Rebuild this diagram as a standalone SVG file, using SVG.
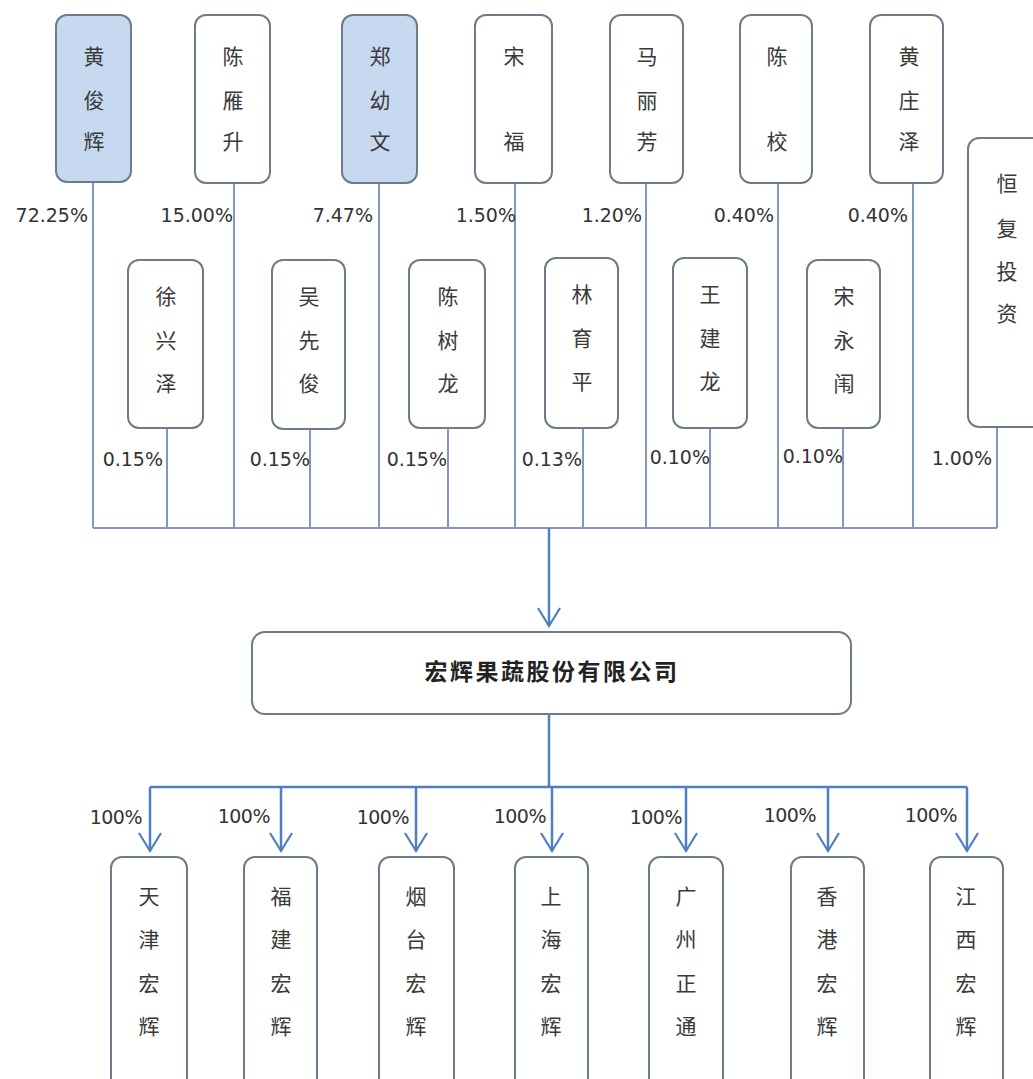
<svg xmlns="http://www.w3.org/2000/svg" width="1033" height="1079" viewBox="0 0 1033 1079">
<defs>
<style>
.box{fill:#ffffff;stroke:#6e7b8b;stroke-width:2}
.hl{fill:#c6d9f0;stroke:#6e7b8b;stroke-width:2}
.nm{font-family:"Noto Sans CJK SC","Noto Sans CJK TC",sans-serif;font-size:21px;fill:#3a3a3a;text-anchor:middle;dominant-baseline:central}
.pct{font-family:"DejaVu Sans","Liberation Sans",sans-serif;font-size:19px;fill:#333333;text-anchor:end;dominant-baseline:central}
.pc2{font-family:"DejaVu Sans","Liberation Sans",sans-serif;font-size:19px;fill:#333333;text-anchor:end;dominant-baseline:central;letter-spacing:-0.5px}
.ln{stroke:#8197bd;stroke-width:2;fill:none}
.ln2{stroke:#4f7fc0;stroke-width:2.5;fill:none}
.co{font-family:"Noto Sans CJK SC",sans-serif;font-size:23px;font-weight:bold;fill:#222222;text-anchor:middle;dominant-baseline:central;letter-spacing:2.5px}
</style>
<marker id="arr" markerUnits="userSpaceOnUse" markerWidth="30" markerHeight="30" refX="0" refY="0" viewBox="-20 -15 30 30" orient="auto" overflow="visible">
<path d="M-18,-11 L0,0 L-18,11" fill="none" stroke="#4f7fc0" stroke-width="2.2"/>
</marker>
</defs>
<rect width="1033" height="1079" fill="#ffffff"/>

<g id="connectors">
<path class="ln" d="M93,182 V528 M234,183 V528 M379,183 V528 M515,183 V528 M646,183 V528 M778,183 V528 M913,183 V528 M997,427 V528"/>
<path class="ln" d="M167,428 V528 M310,429 V528 M448,428 V528 M583,428 V528 M710,428 V528 M843,428 V528"/>
<path class="ln" d="M93,528 H997"/>
<path class="ln2" d="M549,528 V626" marker-end="url(#arr)"/>
<path class="ln2" d="M549,714 V787 M150,787 H967"/>
<path class="ln2" d="M150,787 V851" marker-end="url(#arr)"/>
<path class="ln2" d="M281,787 V851" marker-end="url(#arr)"/>
<path class="ln2" d="M416,787 V851" marker-end="url(#arr)"/>
<path class="ln2" d="M552,787 V851" marker-end="url(#arr)"/>
<path class="ln2" d="M686,787 V851" marker-end="url(#arr)"/>
<path class="ln2" d="M828,787 V851" marker-end="url(#arr)"/>
<path class="ln2" d="M967,787 V851" marker-end="url(#arr)"/>
</g>

<g id="labels">
<text class="pct" x="88" y="215">72.25%</text>
<text class="pct" x="233" y="215">15.00%</text>
<text class="pct" x="373" y="215">7.47%</text>
<text class="pct" x="516" y="215">1.50%</text>
<text class="pct" x="642" y="215">1.20%</text>
<text class="pct" x="774" y="215">0.40%</text>
<text class="pct" x="908" y="215">0.40%</text>
<text class="pct" x="163" y="459">0.15%</text>
<text class="pct" x="310" y="459">0.15%</text>
<text class="pct" x="447" y="459">0.15%</text>
<text class="pct" x="582" y="459">0.13%</text>
<text class="pct" x="710" y="457">0.10%</text>
<text class="pct" x="843" y="456">0.10%</text>
<text class="pct" x="992" y="458">1.00%</text>
<text class="pc2" x="142" y="817">100%</text>
<text class="pc2" x="270" y="816">100%</text>
<text class="pc2" x="409" y="817">100%</text>
<text class="pc2" x="546" y="816">100%</text>
<text class="pc2" x="682" y="817">100%</text>
<text class="pc2" x="816" y="815">100%</text>
<text class="pc2" x="957" y="815">100%</text>
</g>

<g id="n-huangjunhui"><rect class="hl" x="56" y="15" width="75" height="167" rx="11"/><text class="nm" x="94" y="55">黄</text><text class="nm" x="94" y="99">俊</text><text class="nm" x="94" y="140">辉</text></g>
<g id="n-chenyansheng"><rect class="box" x="195" y="15" width="75" height="168" rx="11"/><text class="nm" x="233" y="55">陈</text><text class="nm" x="233" y="99">雁</text><text class="nm" x="233" y="140">升</text></g>
<g id="n-zhengyouwen"><rect class="hl" x="342" y="15" width="75" height="168" rx="11"/><text class="nm" x="380" y="55">郑</text><text class="nm" x="380" y="99">幼</text><text class="nm" x="380" y="140">文</text></g>
<g id="n-songfu"><rect class="box" x="475" y="15" width="77" height="168" rx="11"/><text class="nm" x="514" y="55">宋</text><text class="nm" x="514" y="140">福</text></g>
<g id="n-malifang"><rect class="box" x="610" y="15" width="73" height="168" rx="11"/><text class="nm" x="647" y="55">马</text><text class="nm" x="647" y="99">丽</text><text class="nm" x="647" y="140">芳</text></g>
<g id="n-chenxiao"><rect class="box" x="740" y="15" width="72" height="168" rx="11"/><text class="nm" x="777" y="55">陈</text><text class="nm" x="777" y="140">校</text></g>
<g id="n-huangzhuangze"><rect class="box" x="870" y="15" width="73" height="168" rx="11"/><text class="nm" x="909" y="55">黄</text><text class="nm" x="909" y="99">庄</text><text class="nm" x="909" y="140">泽</text></g>
<g id="n-hengfu"><rect class="box" x="968" y="138" width="90" height="289" rx="11"/><text class="nm" x="1007" y="182">恒</text><text class="nm" x="1007" y="227">复</text><text class="nm" x="1007" y="270">投</text><text class="nm" x="1007" y="312">资</text></g>

<g id="n-xuxingze"><rect class="box" x="128" y="260" width="75" height="168" rx="11"/><text class="nm" x="166" y="295">徐</text><text class="nm" x="166" y="339">兴</text><text class="nm" x="166" y="382">泽</text></g>
<g id="n-wuxianjun"><rect class="box" x="272" y="260" width="73" height="169" rx="11"/><text class="nm" x="309" y="295">吴</text><text class="nm" x="309" y="339">先</text><text class="nm" x="309" y="382">俊</text></g>
<g id="n-chenshulong"><rect class="box" x="409" y="260" width="76" height="168" rx="11"/><text class="nm" x="448" y="295">陈</text><text class="nm" x="448" y="339">树</text><text class="nm" x="448" y="382">龙</text></g>
<g id="n-linyuping"><rect class="box" x="545" y="258" width="73" height="170" rx="11"/><text class="nm" x="582" y="293">林</text><text class="nm" x="582" y="337">育</text><text class="nm" x="582" y="380">平</text></g>
<g id="n-wangjianlong"><rect class="box" x="673" y="258" width="74" height="170" rx="11"/><text class="nm" x="710" y="293">王</text><text class="nm" x="710" y="337">建</text><text class="nm" x="710" y="380">龙</text></g>
<g id="n-songyong"><rect class="box" x="807" y="260" width="73" height="168" rx="11"/><text class="nm" x="844" y="295">宋</text><text class="nm" x="844" y="339">永</text><text class="nm" x="844" y="382">闱</text></g>

<g id="n-company"><rect class="box" x="252" y="632" width="599" height="82" rx="13"/><text class="co" x="552" y="670">宏辉果蔬股份有限公司</text></g>

<g id="n-tianjin"><rect class="box" x="111" y="857" width="76" height="240" rx="11"/><text class="nm" x="149" y="895">天</text><text class="nm" x="149" y="938">津</text><text class="nm" x="149" y="982">宏</text><text class="nm" x="149" y="1025">辉</text></g>
<g id="n-fujian"><rect class="box" x="244" y="857" width="73" height="240" rx="11"/><text class="nm" x="281" y="895">福</text><text class="nm" x="281" y="938">建</text><text class="nm" x="281" y="982">宏</text><text class="nm" x="281" y="1025">辉</text></g>
<g id="n-yantai"><rect class="box" x="379" y="857" width="75" height="240" rx="11"/><text class="nm" x="416" y="895">烟</text><text class="nm" x="416" y="938">台</text><text class="nm" x="416" y="982">宏</text><text class="nm" x="416" y="1025">辉</text></g>
<g id="n-shanghai"><rect class="box" x="515" y="857" width="73" height="240" rx="11"/><text class="nm" x="551" y="895">上</text><text class="nm" x="551" y="938">海</text><text class="nm" x="551" y="982">宏</text><text class="nm" x="551" y="1025">辉</text></g>
<g id="n-guangzhou"><rect class="box" x="649" y="857" width="74" height="240" rx="11"/><text class="nm" x="686" y="895">广</text><text class="nm" x="686" y="938">州</text><text class="nm" x="686" y="982">正</text><text class="nm" x="686" y="1025">通</text></g>
<g id="n-xianggang"><rect class="box" x="791" y="857" width="73" height="240" rx="11"/><text class="nm" x="827" y="895">香</text><text class="nm" x="827" y="938">港</text><text class="nm" x="827" y="982">宏</text><text class="nm" x="827" y="1025">辉</text></g>
<g id="n-jiangxi"><rect class="box" x="930" y="857" width="73" height="240" rx="11"/><text class="nm" x="966" y="895">江</text><text class="nm" x="966" y="938">西</text><text class="nm" x="966" y="982">宏</text><text class="nm" x="966" y="1025">辉</text></g>
</svg>
